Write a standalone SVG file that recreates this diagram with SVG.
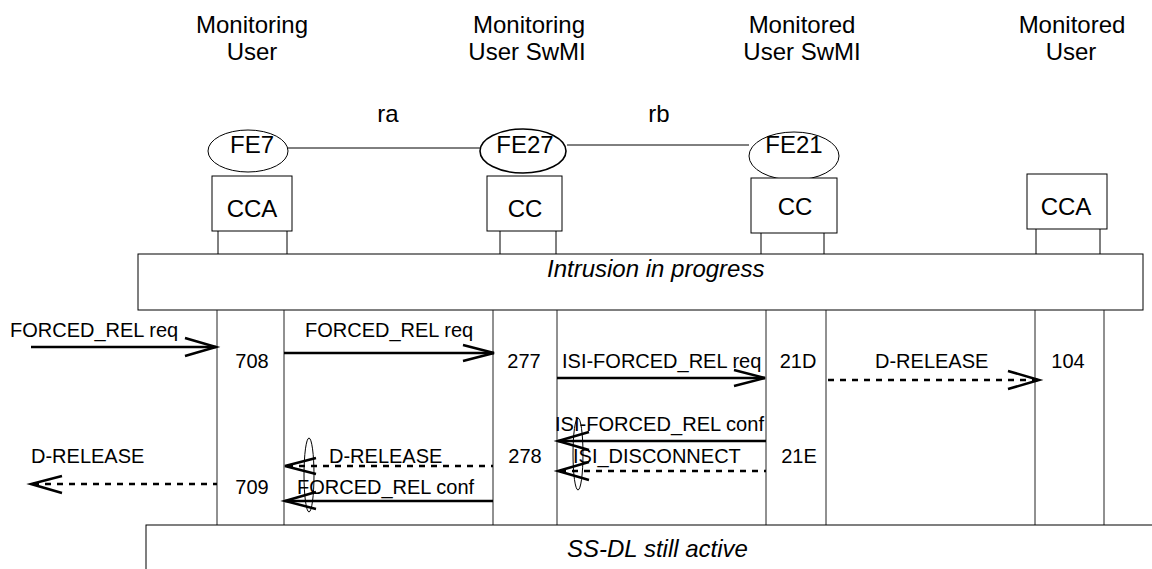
<svg xmlns="http://www.w3.org/2000/svg" width="1152" height="569" viewBox="0 0 1152 569">
<style>
text{font-family:"Liberation Sans",Arial,sans-serif;fill:#000}
.hdr{font-size:24px;text-anchor:middle}
.nl{font-size:24px;text-anchor:middle}
.ml{font-size:20px}
.num{font-size:20px;text-anchor:middle}
.it{font-style:italic}
.box{fill:#fff;stroke:#000;stroke-width:1}
.ln{stroke:#000;stroke-width:1;fill:none}
.ll{stroke:#222;stroke-width:1;fill:none}
.sol{stroke:#000;stroke-width:2.5;fill:none}
.dsh{stroke:#000;stroke-width:2.5;fill:none;stroke-dasharray:6 6}
.ah{stroke:#000;stroke-width:2.5;fill:none}
.thin{stroke:#000;stroke-width:1;fill:none}
</style>
<g id="headers">
<text class="hdr" x="252" y="33">Monitoring</text>
<text class="hdr" x="252" y="60">User</text>
<text class="hdr" x="529" y="33">Monitoring</text>
<text class="hdr" x="527" y="60">User SwMI</text>
<text class="hdr" x="802" y="33">Monitored</text>
<text class="hdr" x="802" y="60">User SwMI</text>
<text class="hdr" x="1072" y="33">Monitored</text>
<text class="hdr" x="1071" y="60">User</text>
</g>
<g id="links">
<line class="ln" x1="288" y1="148" x2="480" y2="148"/>
<line class="ln" x1="567" y1="145" x2="749" y2="145"/>
<text class="nl" x="659" y="122">rb</text>
<text class="nl" x="388" y="122">ra</text>
</g>
<g id="fe7">
<ellipse class="ln" cx="248" cy="151" rx="40" ry="21"/>
<text class="nl" x="252" y="153">FE7</text>
</g>
<g id="fe27">
<ellipse class="ln" style="stroke-width:1.6" cx="523" cy="151" rx="43" ry="22"/>
<text class="nl" x="525" y="153">FE27</text>
</g>
<g id="fe21">
<ellipse class="ln" cx="794" cy="156" rx="45" ry="24"/>
<text class="nl" x="794" y="153">FE21</text>
</g>
<g id="cca-left">
<rect class="box" x="212" y="176" width="80" height="55"/>
<text class="nl" x="252" y="217">CCA</text>
<line class="ln" x1="218" y1="231" x2="218" y2="254"/>
<line class="ln" x1="287" y1="231" x2="287" y2="254"/>
</g>
<g id="cc-27">
<rect class="box" x="487" y="176" width="75" height="55"/>
<text class="nl" x="525" y="217">CC</text>
<line class="ln" x1="500" y1="231" x2="500" y2="254"/>
<line class="ln" x1="556" y1="231" x2="556" y2="254"/>
</g>
<g id="cc-21">
<rect class="box" x="751" y="178" width="86" height="55"/>
<text class="nl" x="795" y="215">CC</text>
<line class="ln" x1="761" y1="233" x2="761" y2="254"/>
<line class="ln" x1="824" y1="233" x2="824" y2="254"/>
</g>
<g id="cca-right">
<rect class="box" x="1027" y="174" width="80" height="55"/>
<text class="nl" x="1066" y="215">CCA</text>
<line class="ln" x1="1036" y1="229" x2="1036" y2="254"/>
<line class="ln" x1="1100" y1="229" x2="1100" y2="254"/>
</g>
<g id="intrusion">
<rect class="box" x="138" y="254" width="1005" height="56"/>
<text class="it" x="547" y="277" style="font-size:24px">Intrusion in progress</text>
</g>
<g id="lifelines">
<line class="ll" x1="217" y1="310" x2="217" y2="525"/>
<line class="ll" x1="284" y1="310" x2="284" y2="525"/>
<line class="ll" x1="493" y1="310" x2="493" y2="525"/>
<line class="ll" x1="557" y1="310" x2="557" y2="525"/>
<line class="ll" x1="766" y1="310" x2="766" y2="525"/>
<line class="ll" x1="826" y1="310" x2="826" y2="525"/>
<line class="ll" x1="1035" y1="310" x2="1035" y2="525"/>
<line class="ll" x1="1104" y1="310" x2="1104" y2="525"/>
</g>
<g id="still-active">
<rect class="box" x="146" y="525" width="1020" height="60"/>
<text class="it" x="567" y="557" style="font-size:24px">SS-DL still active</text>
</g>
<g id="numbers">
<text class="num" x="252" y="368">708</text>
<text class="num" x="524" y="368">277</text>
<text class="num" x="798" y="368">21D</text>
<text class="num" x="1068" y="368">104</text>
<text class="num" x="525" y="463">278</text>
<text class="num" x="799" y="463">21E</text>
<text class="num" x="252" y="494">709</text>
</g>
<g id="connectors">
<line class="sol" x1="31" y1="347" x2="216" y2="347"/>
<polyline class="ah" points="185,338 216,347 185,356"/>
<text class="ml" x="10" y="337">FORCED_REL req</text>

<line class="sol" x1="284" y1="353" x2="494" y2="353"/>
<polyline class="ah" points="463,345 494,353 463,361"/>
<text class="ml" x="305" y="337">FORCED_REL req</text>

<line class="sol" x1="557" y1="378" x2="765" y2="378"/>
<polyline class="ah" points="734,370 765,378 734,386"/>
<text class="ml" x="562" y="368">ISI-FORCED_REL req</text>

<line class="dsh" x1="828" y1="380" x2="1038" y2="380"/>
<polyline class="ah" points="1008,371 1039,380 1008,389"/>
<text class="ml" x="875" y="368">D-RELEASE</text>

<line class="sol" x1="558" y1="441" x2="766" y2="441"/>
<polyline class="ah" points="589,432 558,441 589,450"/>
<text class="ml" x="555" y="431" textLength="209" lengthAdjust="spacingAndGlyphs">ISI-FORCED_REL conf</text>

<line class="dsh" x1="560" y1="471" x2="766" y2="471"/>
<polyline class="ah" points="589,462 558,471 589,480"/>
<text class="ml" x="573" y="463">ISI_DISCONNECT</text>
<ellipse class="thin" cx="578" cy="454" rx="5" ry="36"/>

<line class="dsh" x1="287" y1="466" x2="493" y2="466"/>
<polyline class="ah" points="316,458 285,466 316,474"/>
<text class="ml" x="329" y="463">D-RELEASE</text>

<line class="sol" x1="285" y1="501" x2="493" y2="501"/>
<polyline class="ah" points="316,492 285,501 316,509"/>
<text class="ml" x="297" y="494">FORCED_REL conf</text>
<ellipse class="thin" cx="309" cy="475" rx="5" ry="37"/>

<line class="dsh" x1="33" y1="484" x2="217" y2="484"/>
<polyline class="ah" points="62,476 31,484 62,493"/>
<text class="ml" x="31" y="463">D-RELEASE</text>
</g>
</svg>
